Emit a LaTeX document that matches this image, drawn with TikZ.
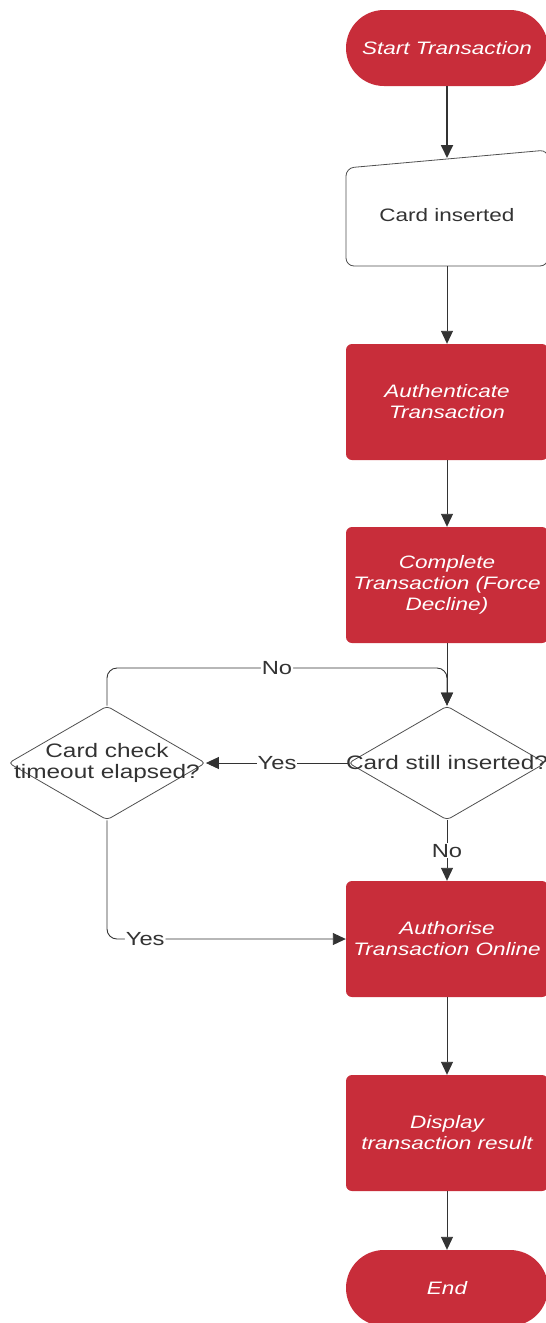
\documentclass[tikz,border=0pt]{standalone}
\usepackage{fontspec}
\setmainfont{Liberation Sans}[FakeStretch=1.25]
\usepackage{tikz}
\usetikzlibrary{shapes.geometric, arrows.meta}

\definecolor{lucred}{RGB}{200,45,58}
\definecolor{darkline}{RGB}{51,51,51}
\definecolor{edgegray}{RGB}{80,80,80}

\tikzset{
  termbox/.style = {rectangle, fill=lucred, rounded corners=38pt, minimum width=202pt, minimum height=76pt, text=white, font=\fontsize{18}{21}\selectfont\itshape},
  procbox/.style = {rectangle, fill=lucred, rounded corners=6pt, minimum width=202pt, minimum height=116pt, text=white, align=center, font=\fontsize{18}{21}\selectfont\itshape},
  decide/.style = {diamond, draw=edgegray, line width=0.8pt, rounded corners=4pt, minimum width=197pt, minimum height=114pt, inner sep=0pt},
  plain/.style = {text=darkline, align=center, font=\fontsize{18}{21}\selectfont},
  asktext/.style = {text=darkline, align=center, font=\fontsize{19.5}{21}\selectfont},
  conn/.style = {draw=darkline, line width=0.9pt, -{Triangle[length=13pt, width=12pt]}},
  lbl/.style = {fill=white, text=darkline, inner sep=1pt, font=\fontsize{19}{21}\selectfont}
}

\begin{document}
\begin{tikzpicture}[x=1pt, y=-1pt]
\useasboundingbox (0,0) rectangle (546,1323);

% main column
\node[termbox] (start) at (447,48) {Start Transaction};
\draw[draw=edgegray, line width=0.8pt, rounded corners=8pt] (346,168) -- (548,150) -- (548,266) -- (346,266) -- cycle;
\node[plain] (card) at (447,215) {Card inserted};
\coordinate (cardtop) at (447,158);
\coordinate (cardbot) at (447,266);
\node[procbox] (auth) at (447,402) {Authenticate\\Transaction};
\node[procbox] (complete) at (447,585) {Complete\\Transaction (Force\\Decline)};

% the two checks
\node[decide] (dright) at (447,763) {};
\node[asktext] at (dright.center) {Card still inserted?};
\node[decide] (dleft) at (107,763) {};
\node[asktext] at (dleft.center) {Card check\\timeout elapsed?};

\node[procbox] (online) at (447,939) {Authorise\\Transaction Online};
\node[procbox] (display) at (447,1133) {Display\\transaction result};
\node[termbox] (stop) at (447,1288) {End};

\coordinate (looptop) at (447,668);

\draw[conn, line width=1.8pt] (start.south) -- (cardtop);
\draw[conn] (cardbot) -- (auth.north);
\draw[conn] (auth.south) -- (complete.north);
\draw[conn] (complete.south) -- (dright.north);
\draw[conn] (dright.west) -- node[lbl] {Yes} (dleft.east);
\draw[conn] (dright.south) -- node[lbl] {No} (online.north);
\draw[conn, rounded corners=10pt] (dleft.north) |- node[lbl, pos=0.75] {No} (looptop) -- (dright.north);
\draw[conn, rounded corners=10pt] (dleft.south) |- node[lbl, pos=0.58] {Yes} (online.west);
\draw[conn] (online.south) -- (display.north);
\draw[conn] (display.south) -- (stop.north);
\end{tikzpicture}
\end{document}
